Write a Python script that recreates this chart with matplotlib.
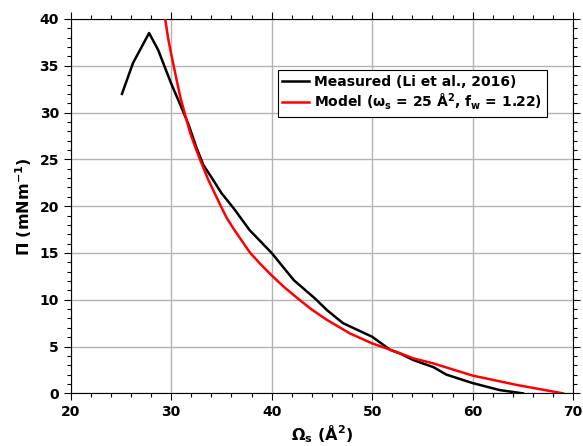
import matplotlib
matplotlib.use("Agg")
import matplotlib.pyplot as plt
from matplotlib.ticker import MultipleLocator

plt.rcParams['font.family'] = 'DejaVu Sans'
plt.rcParams['font.weight'] = 'bold'
plt.rcParams['mathtext.fontset'] = 'dejavusans'
plt.rcParams['mathtext.default'] = 'bf'

# measured isotherm (Li et al., 2016)
area_meas = [25.1, 26.2, 27.8, 28.7, 30.0, 31.0, 31.7, 32.5, 33.2, 34.0, 35.0, 36.2,
             37.8, 40.0, 42.2, 44.3, 45.5, 47.1, 50.0, 51.8, 52.8, 54.1, 56.1, 57.4,
             60.0, 62.7, 65.0]
pi_meas = [32.0, 35.3, 38.5, 36.7, 33.1, 30.6, 28.8, 26.3, 24.4, 23.1, 21.4, 19.8,
           17.45, 15.0, 12.1, 10.15, 8.9, 7.5, 6.05, 4.65, 4.25, 3.56, 2.8, 2.0,
           1.1, 0.35, 0.0]

# model curve
area_model = [29.4, 29.7, 30.05, 30.5, 30.9, 31.4, 31.9, 32.4, 32.9, 33.7, 34.9, 35.5,
              36.2, 37.8, 38.85, 40.0, 41.3, 42.7, 44.0, 45.5, 47.8, 50.0, 52.4, 54.1,
              56.1, 60.0, 64.4, 69.0]
pi_model = [40.0, 37.9, 36.0, 33.7, 31.7, 29.7, 27.8, 26.3, 24.9, 22.8, 20.1, 18.8,
            17.6, 15.1, 13.85, 12.6, 11.3, 10.05, 8.95, 7.85, 6.4, 5.34, 4.44, 3.74,
            3.2, 1.9, 0.9, 0.0]

fig = plt.figure(figsize=(5.83, 4.46), dpi=100)
ax = fig.add_axes([0.1213, 0.118, 0.8617, 0.8394])

ax.plot(area_meas, pi_meas, color='black', lw=1.8, label='Measured (Li et al., 2016)', zorder=3)
ax.plot(area_model, pi_model, color='red', lw=1.8,
        label='Model (ω$_s$ = 25 Å$^2$, f$_w$ = 1.22)', zorder=3)

ax.set_xlim(20, 70)
ax.set_ylim(0, 40)
ax.xaxis.set_major_locator(MultipleLocator(10))
ax.xaxis.set_minor_locator(MultipleLocator(2))
ax.yaxis.set_major_locator(MultipleLocator(5))
ax.yaxis.set_minor_locator(MultipleLocator(1))
ax.tick_params(which='both', direction='out', top=True, right=True, labelsize=10, width=0.8)
ax.tick_params(which='major', length=5)
ax.tick_params(which='minor', length=3)
ax.grid(True, which='major', color='#b4b4b4', lw=1)
for s in ax.spines.values():
    s.set_linewidth(0.8)

ax.set_xlabel('Ω$_s$ (Å$^2$)', fontsize=11.5, fontweight='bold', labelpad=3)
ax.set_ylabel('Π (mNm$^{-1}$)', fontsize=11.5, fontweight='bold', labelpad=4)

leg = ax.legend(loc='upper left', bbox_to_anchor=(0.398, 0.882), fontsize=10,
                frameon=True, fancybox=False, edgecolor='black', framealpha=1,
                handlelength=1.9, borderpad=0.35, labelspacing=0.2, handletextpad=0.4)
leg.get_frame().set_linewidth(0.8)

fig.savefig('out.png', dpi=100)
